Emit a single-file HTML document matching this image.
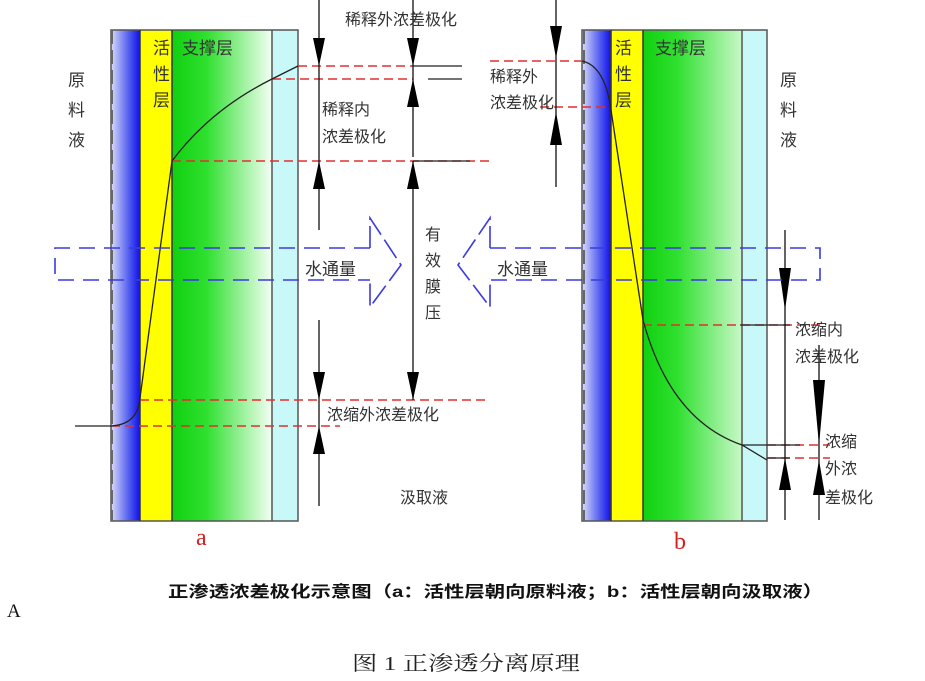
<!DOCTYPE html>
<html><head><meta charset="utf-8"><style>
html,body{margin:0;padding:0;background:#fff;width:925px;height:681px;overflow:hidden}
svg{display:block}
text{font-family:"Liberation Sans","Noto Sans CJK SC",sans-serif;fill:#333}
</style></head><body>
<svg width="925" height="681" viewBox="0 0 925 681" xmlns="http://www.w3.org/2000/svg">
<defs>
<linearGradient id="bl" x1="0" x2="1" y1="0" y2="0"><stop offset="0" stop-color="#d8dcfa"/><stop offset="0.6" stop-color="#5560f0"/><stop offset="1" stop-color="#1010e8"/></linearGradient>
<linearGradient id="gr" x1="0" x2="1" y1="0" y2="0"><stop offset="0" stop-color="#10d010"/><stop offset="0.35" stop-color="#30e030"/><stop offset="1" stop-color="#f4fff4"/></linearGradient>
<linearGradient id="gr2" x1="0" x2="1" y1="0" y2="0"><stop offset="0" stop-color="#10d010"/><stop offset="0.35" stop-color="#30e030"/><stop offset="1" stop-color="#c8f8c8"/></linearGradient>
</defs>

<!-- ===== Panel a ===== -->
<rect x="111" y="30" width="29" height="491" fill="url(#bl)"/>
<rect x="140" y="30" width="32" height="491" fill="#ffff00"/>
<rect x="172" y="30" width="100" height="491" fill="url(#gr)"/>
<rect x="272" y="30" width="26" height="491" fill="#c8f8f8"/>
<rect x="111" y="30" width="187" height="491" fill="none" stroke="#555" stroke-width="1.5"/>
<line x1="140" y1="30" x2="140" y2="521" stroke="#333" stroke-width="1.5"/>
<line x1="172" y1="30" x2="172" y2="521" stroke="#333" stroke-width="1.5"/>
<line x1="272" y1="30" x2="272" y2="521" stroke="#555" stroke-width="1.5"/>
<line x1="112" y1="30" x2="112" y2="521" stroke="#666" stroke-width="2" stroke-dasharray="14,6"/>

<text x="153" y="54" font-size="17" fill="#222">活</text>
<text x="153" y="80" font-size="17" fill="#222">性</text>
<text x="153" y="106" font-size="17" fill="#222">层</text>
<text x="182" y="54" font-size="17" fill="#222">支撑层</text>
<text x="68" y="86" font-size="17">原</text>
<text x="68" y="116" font-size="17">料</text>
<text x="68" y="146" font-size="17">液</text>

<g stroke="#e03030" stroke-width="1.5" stroke-dasharray="9,5" fill="none">
<line x1="298" y1="66" x2="413" y2="66"/>
<line x1="272" y1="79" x2="413" y2="79"/>
<line x1="172" y1="161" x2="490" y2="161"/>
<line x1="140" y1="400" x2="490" y2="400"/>
<line x1="111" y1="426" x2="340" y2="426"/>
</g>
<g stroke="#222" stroke-width="1.3" fill="none">
<line x1="413" y1="66" x2="462" y2="66"/>
<line x1="428" y1="79" x2="462" y2="79"/>
<line x1="413" y1="161" x2="470" y2="161"/>
<path d="M75,426 L112,426 Q138,424 140,398 L172,161 Q210,110 272,79 L298,66"/>
</g>

<g stroke="#111" stroke-width="1.3" fill="none">
<line x1="319" y1="0" x2="319" y2="230"/>
<line x1="319" y1="320" x2="319" y2="506"/>
<line x1="413" y1="0" x2="413" y2="157"/>
<line x1="413" y1="161" x2="413" y2="400"/>
</g>
<g fill="#000">
<path d="M313,38 L325,38 L319,66 z"/><path d="M313,189 L325,189 L319,161 z"/>
<path d="M313,372 L325,372 L319,400 z"/><path d="M313,454 L325,454 L319,426 z"/>
<path d="M407,38 L419,38 L413,66 z"/><path d="M407,107 L419,107 L413,79 z"/>
<path d="M407,189 L419,189 L413,161 z"/><path d="M407,372 L419,372 L413,400 z"/>
</g>

<text x="345" y="25" font-size="16">稀释外浓差极化</text>
<text x="322" y="115" font-size="16">稀释内</text>
<text x="322" y="142" font-size="16">浓差极化</text>
<text x="425" y="240" font-size="16">有</text>
<text x="425" y="266" font-size="16">效</text>
<text x="425" y="292" font-size="16">膜</text>
<text x="425" y="318" font-size="16">压</text>
<text x="305" y="275" font-size="17">水通量</text>
<text x="327" y="420" font-size="16">浓缩外浓差极化</text>
<text x="400" y="503" font-size="16">汲取液</text>

<g stroke="#3a3ae0" stroke-width="1.6" fill="none">
<path d="M370,248 L55,248 L55,280 L370,280" stroke-dasharray="16,9"/>
<path d="M370,248 L370,218 L401,265 L370,307 L370,280" stroke-dasharray="22,6"/>
</g>

<!-- ===== Panel b ===== -->
<rect x="582" y="30" width="29" height="491" fill="url(#bl)"/>
<rect x="611" y="30" width="32" height="491" fill="#ffff00"/>
<rect x="643" y="30" width="99" height="491" fill="url(#gr2)"/>
<rect x="742" y="30" width="25" height="491" fill="#c8f8f8"/>
<rect x="582" y="30" width="185" height="491" fill="none" stroke="#555" stroke-width="1.5"/>
<line x1="611" y1="30" x2="611" y2="521" stroke="#333" stroke-width="1.5"/>
<line x1="643" y1="30" x2="643" y2="521" stroke="#333" stroke-width="1.5"/>
<line x1="742" y1="30" x2="742" y2="521" stroke="#555" stroke-width="1.5"/>
<line x1="584" y1="30" x2="584" y2="521" stroke="#666" stroke-width="2" stroke-dasharray="14,6"/>

<text x="615" y="54" font-size="17" fill="#222">活</text>
<text x="615" y="80" font-size="17" fill="#222">性</text>
<text x="615" y="106" font-size="17" fill="#222">层</text>
<text x="655" y="54" font-size="17" fill="#222">支撑层</text>
<text x="780" y="86" font-size="17">原</text>
<text x="780" y="116" font-size="17">料</text>
<text x="780" y="146" font-size="17">液</text>

<g stroke="#e03030" stroke-width="1.5" stroke-dasharray="9,5" fill="none">
<line x1="490" y1="61" x2="582" y2="61"/>
<line x1="540" y1="107" x2="611" y2="107"/>
<line x1="643" y1="325" x2="820" y2="325"/>
<line x1="767" y1="445" x2="830" y2="445"/>
<line x1="767" y1="458" x2="830" y2="458"/>
</g>
<g stroke="#222" stroke-width="1.3" fill="none">
<path d="M582,61 Q605,66 611,110 L643,320 Q670,420 742,445 L767,460"/>
<line x1="740" y1="325" x2="790" y2="325"/>
<line x1="742" y1="445" x2="800" y2="445"/>
<line x1="767" y1="458" x2="790" y2="458"/>
</g>
<g stroke="#111" stroke-width="1.3" fill="none">
<line x1="556" y1="0" x2="556" y2="187"/>
<line x1="785" y1="230" x2="785" y2="520"/>
<line x1="819" y1="345" x2="819" y2="520"/>
</g>
<g fill="#000">
<path d="M550,26 L562,26 L556,58 z"/><path d="M550,145 L562,145 L556,112 z"/>
<path d="M779,268 L791,268 L785,310 z"/><path d="M779,490 L791,490 L785,458 z"/>
<path d="M813,380 L825,380 L819,445 z"/><path d="M813,495 L825,495 L819,460 z"/>
</g>

<text x="490" y="82" font-size="16">稀释外</text>
<text x="490" y="108" font-size="16">浓差极化</text>
<text x="795" y="335" font-size="16">浓缩内</text>
<text x="795" y="362" font-size="16">浓差极化</text>
<text x="825" y="447" font-size="16">浓缩</text>
<text x="825" y="474" font-size="16">外浓</text>
<text x="825" y="503" font-size="16">差极化</text>
<text x="497" y="275" font-size="17">水通量</text>

<g stroke="#3a3ae0" stroke-width="1.6" fill="none">
<path d="M490,248 L820,248 L820,280 L490,280" stroke-dasharray="16,9"/>
<path d="M490,248 L490,218 L458,265 L490,307 L490,280" stroke-dasharray="22,6"/>
</g>

<text x="196" y="545" font-size="24" style="font-family:'Liberation Serif',serif;fill:#d02020">a</text>
<text x="674" y="549" font-size="24" style="font-family:'Liberation Serif',serif;fill:#d02020">b</text>

<text x="168" y="597" font-size="16" font-weight="bold" textLength="655" lengthAdjust="spacingAndGlyphs" style="fill:#111">正渗透浓差极化示意图（a：活性层朝向原料液；b：活性层朝向汲取液）</text>
<text x="7" y="617" font-size="19" style="font-family:'Liberation Serif',serif;fill:#111">A</text>
<text x="352" y="670" font-size="20" textLength="228" lengthAdjust="spacingAndGlyphs" style="font-family:'Liberation Serif','Noto Serif CJK SC',serif;fill:#222">图 1  正渗透分离原理</text>
</svg>
</body></html>
